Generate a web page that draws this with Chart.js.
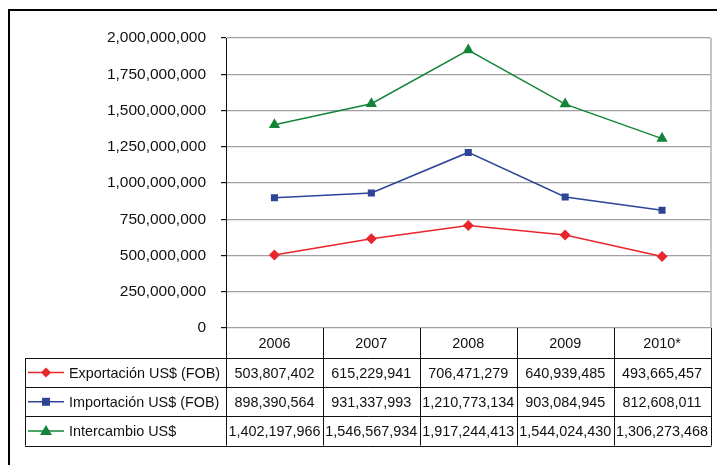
<!DOCTYPE html>
<html>
<head>
<meta charset="utf-8">
<script src="https://cdn.jsdelivr.net/npm/chart.js@4/dist/chart.umd.min.js"></script>
<style>
html,body{margin:0;padding:0;background:#fff;}
#wrap{width:717px;height:465px;position:relative;}
</style>
</head>
<body>
<div id="wrap"><canvas id="c" width="717" height="465"></canvas></div>
<script>
const categories = ['2006', '2007', '2008', '2009', '2010*'];
const seriesNames = ['Exportación US$ (FOB)', 'Importación US$ (FOB)', 'Intercambio US$'];
const exportacion = [503807402, 615229941, 706471279, 640939485, 493665457];
const importacion = [898390564, 931337993, 1210773134, 903084945, 812608011];
const intercambio = [1402197966, 1546567934, 1917244413, 1544024430, 1306273468];
const yTicks = [0, 250000000, 500000000, 750000000, 1000000000, 1250000000, 1500000000, 1750000000, 2000000000];

const colors = ['#e8262b', '#2e4597', '#13843a'];
const styles = ['rectRot', 'rect', 'triangle'];
const radii = [5.5, 5, 6.5];
const seriesData = [exportacion, importacion, intercambio];
const fmt = v => v.toLocaleString('en-US');
const FAMILY = '"Liberation Sans", Arial, sans-serif';
const FONT = '14.4px ' + FAMILY;

const tablePlugin = {
  id: 'tablePlugin',
  afterDraw(chart) {
    const ctx = chart.ctx;
    const ca = chart.chartArea;
    const xs = chart.scales.x;
    const left = ca.left, right = ca.right, top = ca.bottom;
    const rowH = 29.2;
    const headerH = 30;
    const legendLeft = 25;
    const colW = (right - left) / categories.length;
    ctx.save();
    // plot right border
    ctx.strokeStyle = '#8c8c8c';
    ctx.lineWidth = 1;
    ctx.beginPath();
    ctx.moveTo(right + 0.5, ca.top); ctx.lineTo(right + 0.5, ca.bottom);
    ctx.stroke();
    // table lines
    ctx.strokeStyle = '#111';
    ctx.lineWidth = 1;
    const bottom = top + headerH + rowH * 3;
    ctx.beginPath();
    for (let i = 0; i <= categories.length; i++) {
      const x = Math.round(left + i * colW) + 0.5;
      ctx.moveTo(x, top); ctx.lineTo(x, bottom);
    }
    ctx.moveTo(legendLeft + 0.5, top + headerH); ctx.lineTo(legendLeft + 0.5, bottom);
    for (let r = 0; r <= 3; r++) {
      const y = Math.round(top + headerH + r * rowH) + 0.5;
      ctx.moveTo(legendLeft, y); ctx.lineTo(right + 1, y);
    }
    ctx.stroke();
    // header labels
    ctx.fillStyle = '#111';
    ctx.font = FONT;
    ctx.textAlign = 'center';
    ctx.textBaseline = 'middle';
    categories.forEach((c, i) => {
      ctx.fillText(c, xs.getPixelForValue(i), top + headerH / 2 + 1);
    });
    // rows
    seriesData.forEach((arr, r) => {
      const yc = top + headerH + r * rowH + rowH / 2 + 1;
      arr.forEach((v, i) => {
        ctx.textAlign = 'center';
        ctx.fillText(fmt(v), xs.getPixelForValue(i), yc);
      });
      // legend key
      ctx.strokeStyle = colors[r];
      ctx.lineWidth = 1.5;
      ctx.beginPath();
      ctx.moveTo(28, yc - 1); ctx.lineTo(64, yc - 1);
      ctx.stroke();
      ctx.fillStyle = colors[r];
      ctx.beginPath();
      const mx = 46, my = yc - 1;
      if (r === 0) {
        ctx.moveTo(mx, my - 5); ctx.lineTo(mx + 5, my); ctx.lineTo(mx, my + 5); ctx.lineTo(mx - 5, my); ctx.closePath();
      } else if (r === 1) {
        ctx.rect(mx - 4, my - 4, 8, 8);
      } else {
        ctx.moveTo(mx, my - 6); ctx.lineTo(mx + 6, my + 4); ctx.lineTo(mx - 6, my + 4); ctx.closePath();
      }
      ctx.fill();
      ctx.fillStyle = '#111';
      ctx.textAlign = 'left';
      ctx.fillText(seriesNames[r], 69, yc);
    });
    // outer frame
    ctx.strokeStyle = '#000';
    ctx.lineWidth = 2;
    ctx.beginPath();
    ctx.moveTo(9, 465); ctx.lineTo(9, 10); ctx.lineTo(717, 10);
    ctx.stroke();
    ctx.restore();
  }
};

new Chart(document.getElementById('c'), {
  type: 'line',
  data: {
    labels: categories,
    datasets: seriesData.map((d, i) => ({
      label: seriesNames[i],
      data: d,
      borderColor: colors[i],
      backgroundColor: colors[i],
      borderWidth: 1.5,
      pointStyle: styles[i],
      pointRadius: radii[i],
      pointHoverRadius: radii[i],
      pointBorderWidth: 0,
      tension: 0,
      fill: false
    }))
  },
  options: {
    responsive: false,
    animation: false,
    devicePixelRatio: 1,
    layout: { padding: { left: 10, top: 38, right: 3, bottom: 137 } },
    plugins: { legend: { display: false }, tooltip: { enabled: false } },
    scales: {
      x: {
        type: 'category',
        offset: true,
        display: false
      },
      y: {
        min: 0,
        max: 2000000000,
        afterFit(scale) { scale.width = 216; },
        afterBuildTicks(scale) { scale.ticks = yTicks.map(v => ({ value: v })); },
        ticks: {
          padding: 15,
          color: '#111',
          font: { family: FAMILY, size: 15.5 },
          callback: v => fmt(v)
        },
        grid: { color: '#a0a0a0', lineWidth: 1.2, tickLength: 5, tickColor: '#111' },
        border: { color: '#111', width: 1 }
      }
    }
  },
  plugins: [tablePlugin]
});
</script>
</body>
</html>
